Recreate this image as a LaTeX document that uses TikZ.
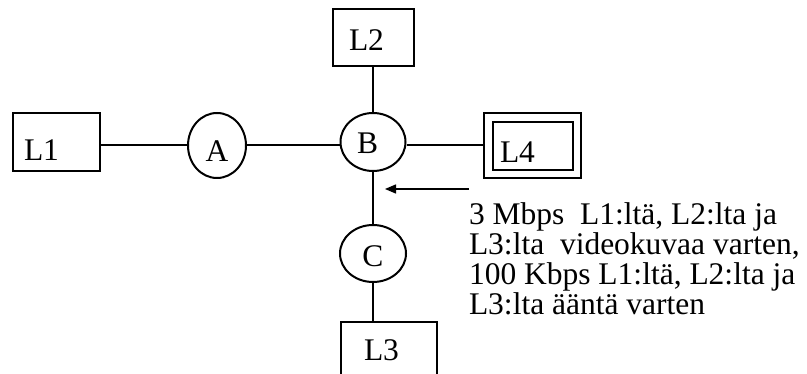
\documentclass[tikz,border=0pt]{standalone}
\usepackage{fontspec}
\setmainfont{Liberation Serif}
\usetikzlibrary{arrows.meta,shapes.geometric}
\begin{document}
\begin{tikzpicture}[x=1pt,y=-1pt,
  line width=2pt,
  box/.style={draw,rectangle,inner sep=0pt,fill=none},
  sw/.style={draw,ellipse,inner sep=0pt},
  lbl/.style={inner sep=0pt,anchor=base west,font=\fontsize{31.5}{31}\selectfont},
  clbl/.style={inner sep=0pt,anchor=base,font=\fontsize{31.5}{31}\selectfont}]
\useasboundingbox (0,0) rectangle (807,374);
\clip (0,0) rectangle (807,374);
% boxes
\node[box,minimum width=87pt,minimum height=58pt] (L1) at (56.5,142) {};
\node[box,minimum width=81pt,minimum height=57pt] (L2) at (373,37.5) {};
\node[box,minimum width=97pt,minimum height=65pt] (L4) at (532.5,145.5) {};
\node[box,minimum width=80pt,minimum height=48pt] (L4in) at (533,146) {};
\node[box,minimum width=96pt,minimum height=78pt] (L3) at (389,361) {};
% switches
\node[sw,minimum width=58pt,minimum height=65pt] (A) at (217,145.5) {};
\node[sw,minimum width=65pt,minimum height=58pt] (B) at (373,142) {};
\node[sw,minimum width=66pt,minimum height=57pt] (C) at (373,253.5) {};
% labels
\node[lbl] (tL1) at (23,161) {L1};
\node[clbl] (tA) at (217,162) {A};
\node[lbl] (tB) at (356,154) {B};
\node[lbl] (tL2) at (348,51) {L2};
\node[lbl] (tL4) at (499,163) {L4};
\node[clbl] (tC) at (373,267) {C};
\node[lbl] (tL3) at (363,361) {L3};
% links
\draw (L1.east |- A.west) -- (A.west);
\draw (A.east) -- (A.east -| B.west);
\draw (B.east |- L4.west) -- (L4.west);
\draw (L2.south -| B.north) -- (B.north);
\draw (B.south) -- (C.north);
\draw (C.south) -- (C.south |- L3.north);
% arrow
\coordinate (arrS) at (469,189);
\coordinate (arrE) at (385,189);
\draw[line width=1.4pt,-{Triangle[length=11pt,width=9pt]}] (arrS) -- (arrE);
% annotation
\node[lbl] (t1) at (468,225) {3 Mbps~ L1:ltä, L2:lta ja};
\node[lbl] (t2) at (468,255) {L3:lta~ videokuvaa varten,};
\node[lbl] (t3) at (468,285) {100 Kbps L1:ltä, L2:lta ja};
\node[lbl] (t4) at (468,315) {L3:lta ääntä varten};
\end{tikzpicture}
\end{document}
